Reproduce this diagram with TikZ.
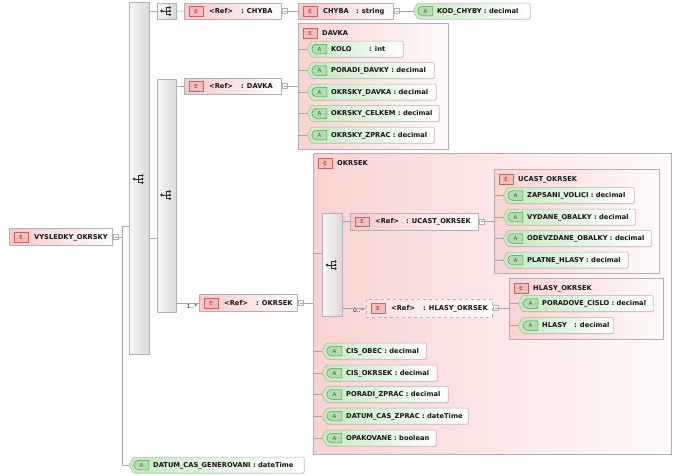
\documentclass[tikz,border=0pt]{standalone}
\usepackage{fontspec}
\setmainfont{DejaVu Sans}
\usetikzlibrary{shadows,shapes.misc}
\definecolor{epink}{HTML}{F5C9C9}
\definecolor{cpink}{HTML}{F9D3D3}
\definecolor{ebfill}{HTML}{F3BCBC}
\definecolor{ebdraw}{HTML}{C46565}
\definecolor{etext}{HTML}{9E2A2A}
\definecolor{agreen}{HTML}{C4EAC0}
\definecolor{abfill}{HTML}{B3DCAF}
\definecolor{abdraw}{HTML}{5C9A57}
\definecolor{atext}{HTML}{2C662A}
\definecolor{bord}{HTML}{B2B2B2}
\definecolor{linec}{HTML}{A6A6A6}
\definecolor{txt}{HTML}{141414}
\definecolor{iconc}{HTML}{2E2E2E}

\tikzset{
  shad/.style={drop shadow={shadow xshift=0.8pt,shadow yshift=-0.8pt,opacity=0.18}},
  elembox/.style={rectangle, draw=bord, left color=epink, right color=white!94!epink, anchor=west, inner sep=0pt, line width=0.5pt, shad},
  contentbox/.style={rectangle, draw=bord, left color=cpink, right color=white!90!cpink, anchor=north west, inner sep=0pt, line width=0.5pt, shad},
  barbox/.style={rectangle, draw=bord, left color=white!97!black, right color=black!15, anchor=north west, inner sep=0pt, line width=0.5pt, shad},
  ebadge/.style={rectangle, draw=ebdraw, fill=ebfill, minimum width=14pt, minimum height=9.5pt, inner sep=0pt, line width=0.5pt, font=\fontsize{5.5}{6}\selectfont, text=etext},
  abadge/.style={rounded rectangle, rounded rectangle right arc=none, draw=abdraw, fill=abfill, minimum width=15pt, minimum height=9.5pt, inner sep=0pt, line width=0.5pt, font=\fontsize{5.5}{6}\selectfont, text=atext},
  attrshape/.style={draw=bord, left color=agreen, right color=white, line width=0.5pt, rounded corners=1pt, shad},
  lbl/.style={anchor=base west, inner sep=0pt, font=\fontsize{6.7}{8}\selectfont\bfseries, text=txt},
  mult/.style={anchor=base east, inner sep=0pt, font=\fontsize{6}{7}\selectfont, text=txt},
  xbox/.style={rectangle, draw=bord, fill=white, minimum size=5pt, inner sep=0pt, line width=0.4pt,
    path picture={\draw[linec,line width=0.4pt] ([xshift=1pt]path picture bounding box.west) -- ([xshift=-1pt]path picture bounding box.east);}},
  conn/.style={draw=linec, line width=0.6pt},
}

% #1 opt style, #2 name, #3 x left, #4 y centre, #5 width, #6 height, #7 text
\newcommand\elemnode[7][]{%
  \node[elembox,#1,minimum width=#5,minimum height=#6] (#2) at (#3,#4) {};
  \node[ebadge] (#2-b) at (#3+12,#4) {E};
  \node[lbl] (#2-t) at (#3+25,#4+2.4) {#7};
  \node[xbox] (#2-x) at (#3+#5+4,#4) {};
}
% #1 name, #2 x left, #3 y centre, #4 width, #5 text
\newcommand\attrnode[5]{%
  \path[attrshape] (#2+4.5,#3-8) -- (#2+#4,#3-8) -- (#2+#4,#3+8) -- (#2+4.5,#3+8) -- (#2,#3) -- cycle;
  \coordinate (#1) at (#2,#3);
  \node[abadge] (#1-b) at (#2+12.5,#3) {A};
  \node[lbl] (#1-t) at (#2+24,#3+2.4) {#5};
}
% #1 name, #2 x1, #3 y1, #4 x2, #5 y2, #6 title
\newcommand\cboxnode[6]{%
  \node[contentbox, minimum width=#4-#2, minimum height=#5-#3] (#1) at (#2,#3) {};
  \node[ebadge] (#1-b) at (#2+12,#3+10) {E};
  \node[lbl] (#1-t) at (#2+24,#3+12.4) {#6};
}
\newcommand\seqicon[2]{%
  \draw[iconc, line width=0.7pt] (#1-4.5,#2) -- (#1-0.5,#2) (#1-0.5,#2-3.6) -- (#1-0.5,#2+3.6)
    (#1-0.5,#2-3.6) -- (#1+3,#2-3.6) (#1-0.5,#2) -- (#1+3,#2) (#1-0.5,#2+3.6) -- (#1+3,#2+3.6);
  \fill[iconc] (#1-4.8,#2) circle (1.5pt) (#1+3.3,#2-3.6) circle (1.35pt)
    (#1+3.3,#2) circle (1.35pt) (#1+3.3,#2+3.6) circle (1.35pt);
}
% #1 name, #2 x1, #3 y1, #4 x2, #5 y2, #6 icon y
\newcommand\barnode[6]{%
  \node[barbox, minimum width=#4-#2, minimum height=#5-#3] (#1) at (#2,#3) {};
  \pgfmathsetmacro\icx{0.5*#2+0.5*#4}%
  \seqicon{\icx}{#6}
}

\begin{document}
\begin{tikzpicture}[x=1pt,y=-1pt]
\fill[white] (0,0) rectangle (680,475);
\useasboundingbox (0,0) rectangle (680,475);

% compositors
\barnode{bar1}{129}{2}{149}{354}{179}
\barnode{seq1}{157}{3}{176}{19}{11}
\barnode{bar2}{157}{79}{176}{312}{195}

% root
\elemnode{vysl}{9}{237}{103}{17}{VYSLEDKY\_OKRSKY}

% CHYBA branch
\elemnode{refchyba}{184}{11}{97}{16}{\makebox[32pt][l]{<Ref>}: CHYBA}
\elemnode{chybas}{298}{11}{95}{16}{\makebox[33pt][l]{CHYBA}: string}
\attrnode{kod}{413}{11}{117}{KOD\_CHYBY : decimal}

% DAVKA branch
\elemnode{refdavka}{184}{86}{97}{16}{\makebox[32pt][l]{<Ref>}: DAVKA}
\cboxnode{davkabox}{298}{23}{448}{149}{DAVKA}
\attrnode{kolo}{307}{49}{96}{\makebox[38pt][l]{KOLO}: int}
\attrnode{poradidavky}{307}{70.5}{127}{PORADI\_DAVKY : decimal}
\attrnode{okrskydavka}{307}{92}{129}{OKRSKY\_DAVKA : decimal}
\attrnode{okrskycelkem}{307}{113.5}{132}{OKRSKY\_CELKEM : decimal}
\attrnode{okrskyzprac}{307}{135}{127}{OKRSKY\_ZPRAC : decimal}

% OKRSEK branch
\elemnode{refokrsek}{199}{303}{98}{17}{\makebox[32pt][l]{<Ref>}: OKRSEK}
\node[mult] (m1) at (197.5,308) {1..*};
\cboxnode{okrsekbox}{313}{153}{671}{454}{OKRSEK}
\barnode{bar3}{322}{213}{342}{316}{265}

\elemnode{refucast}{350}{221.5}{128}{17}{\makebox[31pt][l]{<Ref>}: UCAST\_OKRSEK}
\cboxnode{ucastbox}{494}{169}{659}{273}{UCAST\_OKRSEK}
\attrnode{zapsani}{503}{195.5}{131}{ZAPSANI\_VOLICI : decimal}
\attrnode{vydane}{503}{217}{132}{VYDANE\_OBALKY : decimal}
\attrnode{odevzdane}{503}{238.5}{148}{ODEVZDANE\_OBALKY : decimal}
\attrnode{platne}{503}{260}{125}{PLATNE\_HLASY : decimal}

\elemnode[dashed, left color=white!40!epink]{refhlasy}{366}{308}{126}{18}{\makebox[32pt][l]{<Ref>}: HLASY\_OKRSEK}
\node[mult] (m2) at (364,312) {0..*};
\cboxnode{hlasybox}{509}{278}{663}{339}{HLASY\_OKRSEK}
\attrnode{poradove}{518}{303.5}{135}{PORADOVE\_CISLO : decimal}
\attrnode{hlasy}{518}{325.5}{95}{\makebox[32pt][l]{HLASY}: decimal}

\attrnode{cisobec}{322}{351}{104}{CIS\_OBEC : decimal}
\attrnode{cisokrsek}{322}{373}{115}{CIS\_OKRSEK : decimal}
\attrnode{poradizprac}{322}{394.5}{126}{PORADI\_ZPRAC : decimal}
\attrnode{datumzprac}{322}{416}{146}{DATUM\_CAS\_ZPRAC : dateTime}
\attrnode{opakovane}{322}{438}{114}{OPAKOVANE : boolean}

\attrnode{datumgen}{129}{465}{175}{DATUM\_CAS\_GENEROVANI : dateTime}

% connectors
\coordinate (vtop) at (122,226);
\coordinate (vbot) at (122,465);
\coordinate (b2in) at (157,238);
\coordinate (b3in) at (322,253);

\draw[conn] (vysl-x.east) -- (vysl-x.east -| vtop);
\draw[conn] (bar1.west |- vtop) -- (vtop) -- (vbot) -- (datumgen);
\draw[conn] (bar1.east |- seq1.west) -- (seq1.west);
\draw[conn] (seq1.east) -- (refchyba.west);
\draw[conn] (refchyba-x.east) -- (chybas.west);
\draw[conn] (chybas-x.east) -- (kod);
\draw[conn] (bar1.east |- b2in) -- (b2in);
\draw[conn] (bar2.east |- refdavka.west) -- (refdavka.west);
\draw[conn] (refdavka-x.east) -- (davkabox.west |- refdavka-x.east);
\foreach \a in {kolo,poradidavky,okrskydavka,okrskycelkem,okrskyzprac}
  \draw[conn] (davkabox.west |- \a) -- (\a);
\draw[conn] (bar2.east |- refokrsek.west) -- (refokrsek.west);
\draw[conn] (refokrsek-x.east) -- (okrsekbox.west |- refokrsek-x.east);
\draw[conn] (okrsekbox.west |- b3in) -- (b3in);
\draw[conn] (bar3.east |- refucast.west) -- (refucast.west);
\draw[conn] (refucast-x.east) -- (ucastbox.west |- refucast-x.east);
\foreach \a in {zapsani,vydane,odevzdane,platne}
  \draw[conn] (ucastbox.west |- \a) -- (\a);
\draw[conn] (bar3.east |- refhlasy.west) -- (refhlasy.west);
\draw[conn] (refhlasy-x.east) -- (hlasybox.west |- refhlasy-x.east);
\foreach \a in {poradove,hlasy}
  \draw[conn] (hlasybox.west |- \a) -- (\a);
\foreach \a in {cisobec,cisokrsek,poradizprac,datumzprac,opakovane}
  \draw[conn] (okrsekbox.west |- \a) -- (\a);
\end{tikzpicture}
\end{document}
